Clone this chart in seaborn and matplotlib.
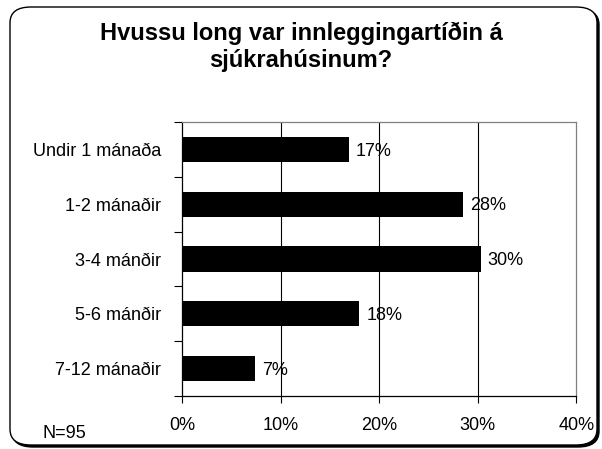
import matplotlib
matplotlib.use("Agg")
import matplotlib.pyplot as plt
from matplotlib.patches import FancyBboxPatch
import pandas as pd
import seaborn as sns

categories = ["Undir 1 mánaða", "1-2 mánaðir", "3-4 mánðir", "5-6 mánðir", "7-12 mánaðir"]
values = [16.9, 28.5, 30.3, 18.0, 7.4]
labels = ["17%", "28%", "30%", "18%", "7%"]
xticks = [0, 10, 20, 30, 40]
title = "Hvussu long var innleggingartíðin á\nsjúkrahúsinum?"
note = "N=95"

sns.set_style("white")
plt.rcParams["font.family"] = ["Liberation Sans", "DejaVu Sans"]
plt.rcParams["text.color"] = "black"
plt.rcParams["xtick.color"] = "black"
plt.rcParams["ytick.color"] = "black"

df = pd.DataFrame({"cat": categories, "val": values})

W, H = 602, 449
fig = plt.figure(figsize=(W / 100, H / 100), dpi=100)

# rounded frame with a small shadow
shadow = FancyBboxPatch((12 / W, 2 / H), 587 / W, 438 / H,
                        boxstyle="round,pad=0,rounding_size=0.035",
                        transform=fig.transFigure, facecolor="black",
                        edgecolor="black", lw=1, zorder=0)
frame = FancyBboxPatch((10 / W, 4 / H), 587 / W, 438 / H,
                       boxstyle="round,pad=0,rounding_size=0.035",
                       transform=fig.transFigure, facecolor="white",
                       edgecolor="black", lw=1, zorder=0.1)
fig.patches.extend([shadow, frame])

ax = fig.add_axes([182 / W, 1 - 396 / H, (576.3 - 182) / W, (396 - 122) / H])
ax.set_zorder(2)
ax.set_facecolor("none")
sns.barplot(data=df, x="val", y="cat", color="black", width=0.46,
            saturation=1, edgecolor="black", linewidth=0, ax=ax, zorder=3)

for i, (v, t) in enumerate(zip(values, labels)):
    ax.text(v + 0.7, i + 0.03, t, va="center", ha="left", fontsize=13, zorder=4)

ax.set_xlim(0, 40)
ax.set_ylim(4.5, -0.5)
ax.set_xticks(xticks)
ax.set_xticklabels([f"{t}%" for t in xticks], fontsize=13)
ax.tick_params(axis="x", length=5, width=0.8, color="black", pad=10, direction="out", bottom=True)
ax.tick_params(axis="y", which="major", length=0, pad=15, labelsize=13)
ax.set_yticks([i - 0.5 for i in range(len(categories) + 1)], minor=True)
ax.tick_params(axis="y", which="minor", length=6, width=0.8, color="black", direction="out", left=True)
ax.set_xlabel("")
ax.set_ylabel("")

for x in xticks[1:-1]:
    ax.axvline(x, color="black", lw=0.8, zorder=1)

for s in ["left", "bottom"]:
    ax.spines[s].set_color("black")
    ax.spines[s].set_linewidth(0.9)
for s in ["top", "right"]:
    ax.spines[s].set_color("#808080")
    ax.spines[s].set_linewidth(0.9)

fig.text(301 / W, 1 - 47 / H, title, ha="center", va="center", fontsize=17,
         fontweight="bold", linespacing=1.25)
fig.text(43 / W, 1 - 433 / H, note, ha="left", va="center", fontsize=13)

fig.savefig("out.png", dpi=100)
